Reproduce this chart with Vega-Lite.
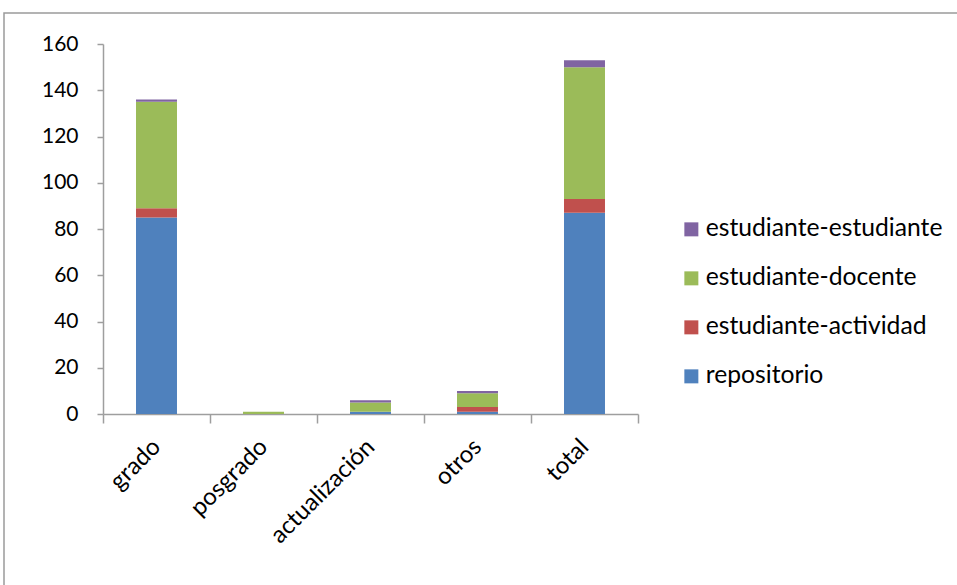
{
  "$schema": "https://vega.github.io/schema/vega-lite/v6.json",
  "width": 963,
  "height": 582,
  "autosize": "none",
  "padding": {"left": 4, "top": 13, "right": -10, "bottom": -10},
  "background": "white",
  "data": {
    "values": [
      {"categoria": "grado", "serie": "repositorio", "valor": 85},
      {"categoria": "grado", "serie": "estudiante-actividad", "valor": 4},
      {"categoria": "grado", "serie": "estudiante-docente", "valor": 46},
      {"categoria": "grado", "serie": "estudiante-estudiante", "valor": 1},
      {"categoria": "posgrado", "serie": "repositorio", "valor": 0},
      {"categoria": "posgrado", "serie": "estudiante-actividad", "valor": 0},
      {"categoria": "posgrado", "serie": "estudiante-docente", "valor": 1},
      {"categoria": "posgrado", "serie": "estudiante-estudiante", "valor": 0},
      {"categoria": "actualización", "serie": "repositorio", "valor": 1},
      {"categoria": "actualización", "serie": "estudiante-actividad", "valor": 0},
      {"categoria": "actualización", "serie": "estudiante-docente", "valor": 4},
      {"categoria": "actualización", "serie": "estudiante-estudiante", "valor": 1},
      {"categoria": "otros", "serie": "repositorio", "valor": 1},
      {"categoria": "otros", "serie": "estudiante-actividad", "valor": 2},
      {"categoria": "otros", "serie": "estudiante-docente", "valor": 6},
      {"categoria": "otros", "serie": "estudiante-estudiante", "valor": 1},
      {"categoria": "total", "serie": "repositorio", "valor": 87},
      {"categoria": "total", "serie": "estudiante-actividad", "valor": 6},
      {"categoria": "total", "serie": "estudiante-docente", "valor": 57},
      {"categoria": "total", "serie": "estudiante-estudiante", "valor": 3}
    ]
  },
  "transform": [
    {"calculate": "indexof(['repositorio','estudiante-actividad','estudiante-docente','estudiante-estudiante'], datum.serie)", "as": "apilado"}
  ],
  "mark": {"type": "bar", "width": {"band": 0.383}},
  "encoding": {
    "x": {
      "field": "categoria",
      "type": "nominal",
      "sort": ["grado", "posgrado", "actualización", "otros", "total"],
      "scale": {"paddingInner": 0, "paddingOuter": 0, "range": [99, 634]},
      "axis": {
        "title": null,
        "offset": -181,
        "labelAngle": -45,
        "labelAlign": "right",
        "labelBaseline": "middle",
        "labelFont": "Lato",
        "labelFontSize": 24,
        "labelColor": "black",
        "labelPadding": 20,
        "tickBand": "extent",
        "tickSize": 9,
        "tickColor": "#9e9e9e",
        "domainColor": "#9e9e9e",
        "domainWidth": 1.5,
        "tickWidth": 1.5
      }
    },
    "y": {
      "field": "valor",
      "type": "quantitative",
      "stack": "zero",
      "scale": {"domain": [0, 160], "nice": false, "range": [401, 31]},
      "axis": {
        "title": null,
        "offset": -99,
        "values": [0, 20, 40, 60, 80, 100, 120, 140, 160],
        "grid": false,
        "labelFont": "Lato",
        "labelFontSize": 21,
        "labelColor": "black",
        "labelPadding": 19,
        "tickSize": 6,
        "tickColor": "#9e9e9e",
        "domainColor": "#9e9e9e",
        "domainWidth": 1.5,
        "tickWidth": 1.5
      }
    },
    "color": {
      "field": "serie",
      "type": "nominal",
      "scale": {
        "domain": ["estudiante-estudiante", "estudiante-docente", "estudiante-actividad", "repositorio"],
        "range": ["#8064A2", "#9BBB59", "#C0504D", "#4F81BD"]
      },
      "legend": {
        "title": null,
        "orient": "none",
        "legendX": 675,
        "legendY": 204,
        "symbolType": "square",
        "symbolSize": 196,
        "symbolStrokeWidth": 0,
        "labelFont": "Lato",
        "labelFontSize": 24.7,
        "labelColor": "black",
        "labelOffset": 2,
        "rowPadding": 23,
        "padding": 0,
        "labelLimit": 400
      }
    },
    "order": {"field": "apilado", "type": "quantitative", "sort": "ascending"}
  },
  "config": {
    "view": {"stroke": "#9a9a9a", "strokeWidth": 1.5}
  }
}
